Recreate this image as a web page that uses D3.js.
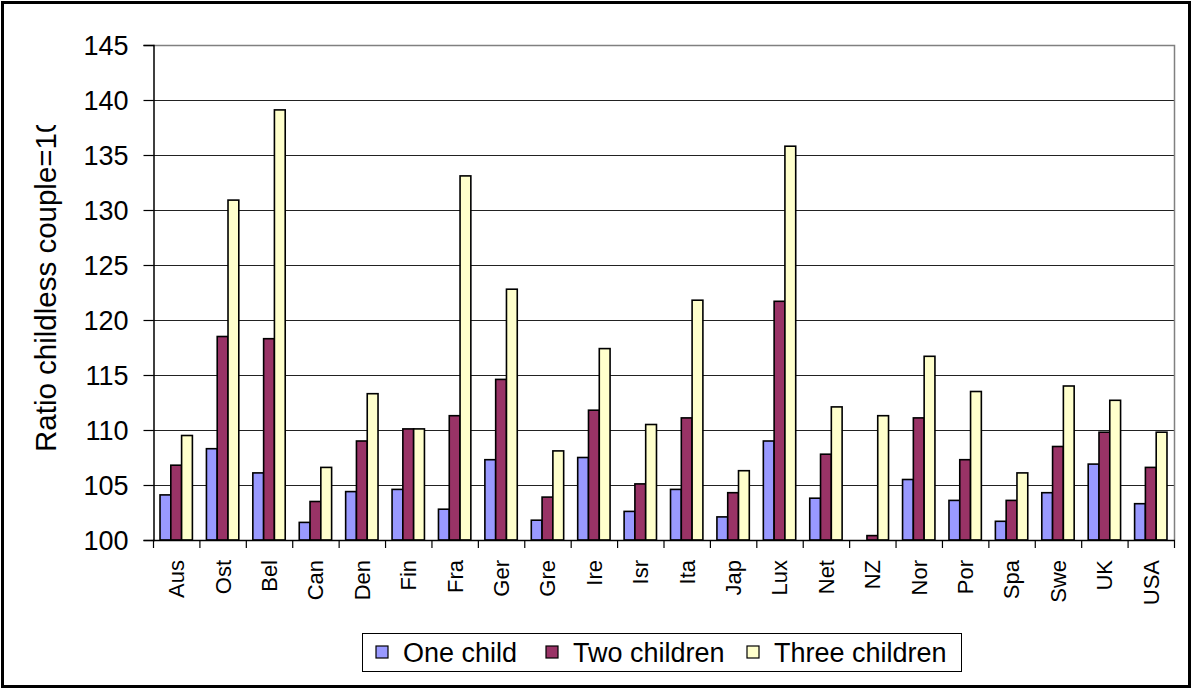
<!DOCTYPE html>
<html>
<head>
<meta charset="utf-8">
<script src="https://cdn.jsdelivr.net/npm/d3@7"></script>
<style>
  html, body { margin: 0; padding: 0; background: #fff; }
  svg { display: block; font-family: "Liberation Sans", Arial, sans-serif; }
</style>
</head>
<body>
<svg id="chart" width="1192" height="689"></svg>
<script>
// Countries (abbreviated) along the category axis
const categories = ["Aus", "Ost", "Bel", "Can", "Den", "Fin", "Fra", "Ger", "Gre", "Ire", "Isr",
                    "Ita", "Jap", "Lux", "Net", "NZ", "Nor", "Por", "Spa", "Swe", "UK", "USA"];

// Ratio against a childless couple (=100), per family type
const oneChild      = [104.1, 108.3, 106.1, 101.6, 104.4, 104.6, 102.8, 107.3, 101.8, 107.5, 102.6,
                       104.6, 102.1, 109.0, 103.8, null, 105.5, 103.6, 101.7, 104.3, 106.9, 103.3];
const twoChildren   = [106.8, 118.5, 118.3, 103.5, 109.0, 110.1, 111.3, 114.6, 103.9, 111.8, 105.1,
                       111.1, 104.3, 121.7, 107.8, 100.4, 111.1, 107.3, 103.6, 108.5, 109.8, 106.6];
const threeChildren = [109.5, 130.9, 139.1, 106.6, 113.3, 110.1, 133.1, 122.8, 108.1, 117.4, 110.5,
                       121.8, 106.3, 135.8, 112.1, 111.3, 116.7, 113.5, 106.1, 114.0, 112.7, 109.8];

const seriesNames = ["One child", "Two children", "Three children"];
const seriesColors = ["#9999FF", "#993366", "#FFFFCC"];
const yTicks = [100, 105, 110, 115, 120, 125, 130, 135, 140, 145];
const yTitle = "Ratio childless couple=100";

const seriesValues = [oneChild, twoChildren, threeChildren];

const svg = d3.select("#chart");
const W = 1192, H = 689;
const plot = { left: 153, right: 1174, top: 45, bottom: 540 };

// outer frame
svg.append("rect")
  .attr("x", 2.5).attr("y", 2.5)
  .attr("width", W - 5).attr("height", H - 5)
  .attr("fill", "#fff").attr("stroke", "#000").attr("stroke-width", 3);

const x = d3.scaleBand().domain(categories).range([plot.left, plot.right]).paddingInner(0).paddingOuter(0);
const xs = d3.scaleBand().domain(seriesNames).range([0, x.bandwidth()]).paddingInner(0).paddingOuter(0.65);
const y = d3.scaleLinear().domain([100, 145]).range([plot.bottom, plot.top]);

// horizontal gridlines
svg.append("g")
  .selectAll("line")
  .data(yTicks.filter(t => t > 100 && t < 145))
  .join("line")
  .attr("x1", plot.left).attr("x2", plot.right)
  .attr("y1", d => Math.round(y(d)) + 0.5).attr("y2", d => Math.round(y(d)) + 0.5)
  .attr("stroke", "#222").attr("stroke-width", 1);

// plot area top/right border
svg.append("path")
  .attr("d", `M${plot.left},${plot.top + 0.5}H${plot.right + 0.5}V${plot.bottom}`)
  .attr("fill", "none").attr("stroke", "#808080").attr("stroke-width", 1.5);

// bars
const rows = categories.map((c, i) => ({ c, vals: seriesValues.map(s => s[i]) }));
const groups = svg.append("g").selectAll("g")
  .data(rows)
  .join("g")
  .attr("transform", d => `translate(${x(d.c)},0)`);

groups.selectAll("rect")
  .data(d => d.vals.map((v, k) => ({ v, k })).filter(e => e.v !== null))
  .join("rect")
  .attr("x", e => xs(seriesNames[e.k]))
  .attr("width", xs.bandwidth())
  .attr("y", e => y(e.v))
  .attr("height", e => y(100) - y(e.v))
  .attr("fill", e => seriesColors[e.k])
  .attr("stroke", "#000")
  .attr("stroke-width", 1.6);

// y axis
const yAxis = svg.append("g")
  .attr("transform", `translate(${plot.left + 0.5},0)`)
  .call(d3.axisLeft(y).tickValues(yTicks).tickSize(10).tickPadding(15).tickFormat(d3.format("d")));
yAxis.select(".domain").attr("stroke", "#000").attr("stroke-width", 1.5);
yAxis.selectAll(".tick line").attr("stroke", "#000").attr("stroke-width", 1.2);
yAxis.selectAll(".tick text")
  .attr("font-size", 27).attr("fill", "#000")
  .attr("font-family", "'Liberation Sans', Arial, sans-serif")
  .attr("dy", "0.36em");

// x axis baseline and boundary ticks
const xg = svg.append("g");
xg.append("line")
  .attr("x1", plot.left).attr("x2", plot.right + 1)
  .attr("y1", plot.bottom + 0.5).attr("y2", plot.bottom + 0.5)
  .attr("stroke", "#000").attr("stroke-width", 1.5);
const boundaries = categories.map(c => x(c)).concat([plot.right]);
xg.selectAll("line.tk")
  .data(boundaries)
  .join("line")
  .attr("class", "tk")
  .attr("x1", d => d + 0.5).attr("x2", d => d + 0.5)
  .attr("y1", plot.bottom).attr("y2", plot.bottom + 8)
  .attr("stroke", "#000").attr("stroke-width", 1.2);

// x labels, rotated
xg.selectAll("text")
  .data(categories)
  .join("text")
  .attr("transform", d => `translate(${x(d) + x.bandwidth() / 2},${plot.bottom + 20}) rotate(-90)`)
  .attr("text-anchor", "end")
  .attr("dy", "0.36em")
  .attr("font-size", 22)
  .attr("fill", "#000")
  .text(d => d);

// y title, cut off where the title area ends
svg.append("clipPath").attr("id", "ytclip")
  .append("rect").attr("x", 0).attr("y", 125).attr("width", 100).attr("height", 500);
svg.append("g")
  .attr("clip-path", "url(#ytclip)")
  .append("text")
  .attr("transform", "translate(56,452) rotate(-90)")
  .attr("text-anchor", "start")
  .attr("font-size", 29.5)
  .attr("fill", "#000")
  .text(yTitle);

// legend
const legend = svg.append("g");
legend.append("rect")
  .attr("x", 362.5).attr("y", 633.5).attr("width", 599).attr("height", 38)
  .attr("fill", "#fff").attr("stroke", "#000").attr("stroke-width", 1);
const legendX = [376, 546, 747];
const items = legend.selectAll("g.item")
  .data(seriesNames)
  .join("g")
  .attr("class", "item")
  .attr("transform", (d, i) => `translate(${legendX[i]},652)`);
items.append("rect")
  .attr("x", 0).attr("y", -6).attr("width", 12).attr("height", 12)
  .attr("fill", (d, i) => seriesColors[i])
  .attr("stroke", "#000").attr("stroke-width", 1.2);
items.append("text")
  .attr("x", 27).attr("dy", "0.36em")
  .attr("font-size", 27)
  .attr("fill", "#000")
  .text(d => d);
</script>
</body>
</html>
